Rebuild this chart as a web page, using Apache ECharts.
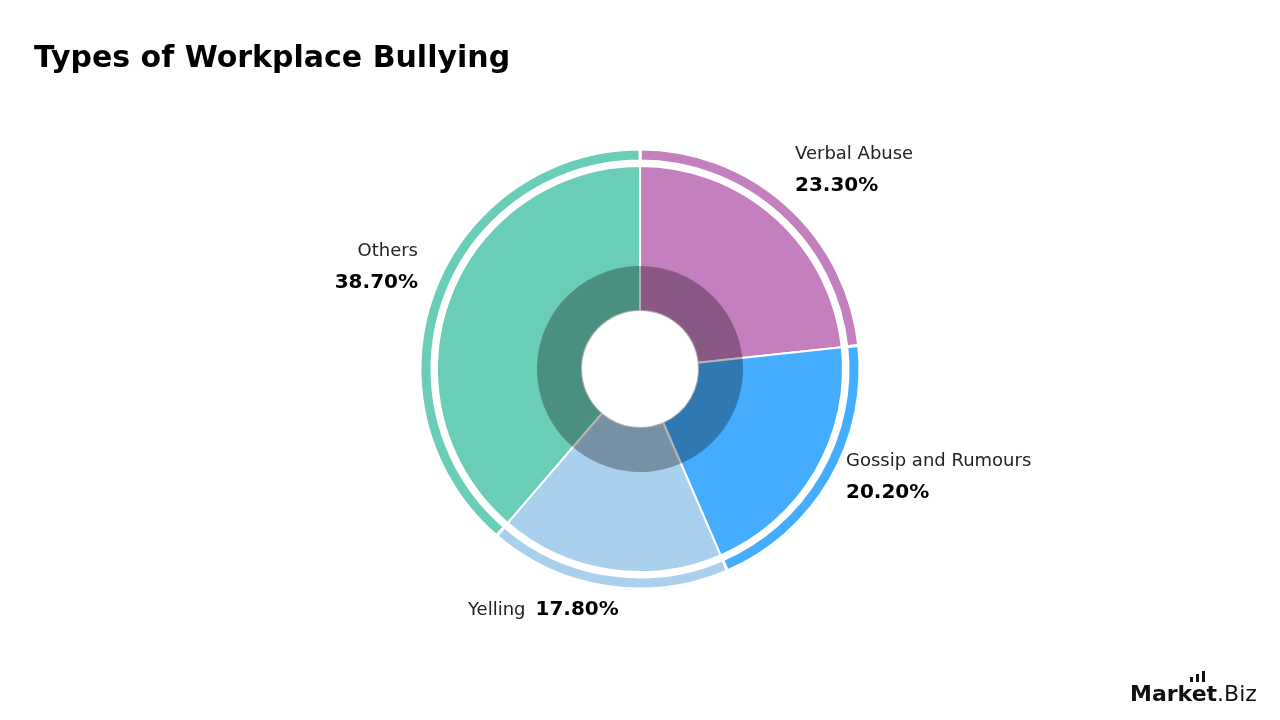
<!DOCTYPE html>
<html>
<head>
<meta charset="utf-8">
<script src="https://cdn.jsdelivr.net/npm/echarts@6/dist/echarts.min.js"></script>
<style>
  html, body { margin: 0; padding: 0; background: #fff; }
  #chart { width: 1280px; height: 720px; }
</style>
</head>
<body>
<div id="chart"></div>
<script>
// data
const categories = ['Verbal Abuse', 'Gossip and Rumours', 'Yelling', 'Others'];
const shares = [23.3, 20.2, 17.8, 38.7];
const colors = ['#C47FBF', '#44ADFF', '#A9D0EC', '#6ACDB8'];

// where each label sits (x, y, align)
const labelSpots = [
  { x: 795, y: 170, align: 'left' },
  { x: 846, y: 477, align: 'left' },
  { x: 468, y: 610, align: 'left' },
  { x: 418, y: 267, align: 'right' }
];

const pieData = categories.map(function (c, i) {
  return { name: c, value: shares[i], itemStyle: { color: colors[i] } };
});

const font = '"DejaVu Sans", Inter, sans-serif';
const chart = echarts.init(document.getElementById('chart'));

chart.setOption({
  animation: false,
  title: {
    text: 'Types of Workplace Bullying',
    left: 29,
    top: 39,
    textStyle: { fontFamily: font, fontSize: 30, fontWeight: 'bold', color: '#000' }
  },
  graphic: [
    {
      type: 'text',
      left: 1130,
      top: 684,
      style: {
        text: '{a|Market}{b|.Biz}',
        rich: {
          a: { fontFamily: font, fontSize: 22, fontWeight: 'bold', fill: '#111' },
          b: { fontFamily: font, fontSize: 22, fontWeight: 'normal', fill: '#111' }
        }
      }
    },
    { type: 'rect', shape: { x: 1190, y: 677, width: 3, height: 5 }, style: { fill: '#111' } },
    { type: 'rect', shape: { x: 1196, y: 674, width: 3, height: 8 }, style: { fill: '#111' } },
    { type: 'rect', shape: { x: 1202, y: 671, width: 3, height: 11 }, style: { fill: '#111' } }
  ],
  series: [
    {
      // thin outer ring
      type: 'pie',
      center: [640, 369],
      radius: [208, 220],
      startAngle: 90,
      clockwise: true,
      silent: true,
      itemStyle: { borderColor: '#fff', borderWidth: 3 },
      label: { show: false },
      labelLine: { show: false },
      data: pieData
    },
    {
      // main ring
      type: 'pie',
      center: [640, 369],
      radius: [58, 203],
      startAngle: 90,
      clockwise: true,
      itemStyle: { borderColor: '#fff', borderWidth: 2 },
      label: {
        show: true,
        formatter: function (p) {
          return p.dataIndex === 2
            ? '{n|' + p.name + '}   {v|' + p.value.toFixed(2) + '%}'
            : '{n|' + p.name + '}\n{v|' + p.value.toFixed(2) + '%}';
        },
        rich: {
          n: { fontFamily: font, fontSize: 18, color: '#222', lineHeight: 31 },
          v: { fontFamily: font, fontSize: 20, fontWeight: 'bold', color: '#000', lineHeight: 31 }
        }
      },
      labelLine: { show: false },
      labelLayout: function (p) {
        const s = labelSpots[p.dataIndex];
        return { x: s.x, y: s.y, align: s.align, verticalAlign: 'middle' };
      },
      data: pieData
    },
    {
      // dark inner overlay
      type: 'pie',
      center: [640, 369],
      radius: [58, 103],
      startAngle: 90,
      clockwise: true,
      silent: true,
      itemStyle: { color: 'rgba(0,0,0,0.3)' },
      label: { show: false },
      labelLine: { show: false },
      data: shares.map(function (v) { return { value: v }; })
    }
  ]
});
</script>
</body>
</html>
